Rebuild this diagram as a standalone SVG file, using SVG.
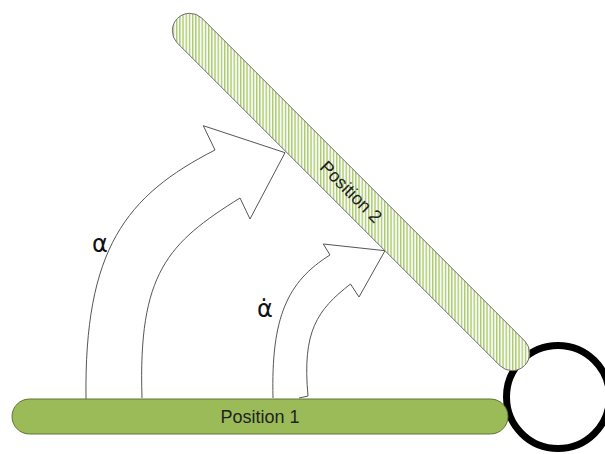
<svg xmlns="http://www.w3.org/2000/svg" width="605" height="454" viewBox="0 0 605 454">
  <style>
    .arrow { fill: none; stroke: #555; stroke-width: 1; stroke-linejoin: miter; }
    .lbl { font-family: "Liberation Sans", "DejaVu Sans", sans-serif; fill: #222; }
    .greek { font-family: "DejaVu Sans", "Liberation Sans", sans-serif; fill: #111; font-size: 24px; }
  </style>
  <defs>
    <pattern id="hatch" patternUnits="userSpaceOnUse" x="0" y="0" width="3.2" height="10">
      <rect x="0" y="0" width="3.2" height="10" fill="#f7faef"/>
      <rect x="0" y="0" width="1.3" height="10" fill="#aac86f"/>
    </pattern>
  </defs>
  <rect width="605" height="454" fill="#ffffff"/>

  <g id="connectors">
    <path id="arrow-alpha" class="arrow" d="M86,399 C84,249 126,195.5 215,150 L203.3,125.7 L285,152.7 L250,219 L240,198 C167.75,243 138,273 142,398"/>
    <path id="arrow-alphadot" class="arrow" d="M273,398 C271,317 287.5,281.5 330,255 L323.3,244 L385,250.7 L359,297 L350.5,284 C317.2,310 302,331 308,396 L299,398"/>
  </g>

  <g id="pivot">
    <circle cx="558" cy="397" r="51.5" fill="#ffffff" stroke="#000000" stroke-width="7"/>
  </g>

  <g id="position2">
    <path d="M201.87,18.13 L524.87,341.13 A17.5,17.5 0 0 1 500.13,365.87 L177.13,42.87 A17.5,17.5 0 0 1 201.87,18.13 Z" fill="url(#hatch)" stroke="#6f6f6f" stroke-width="1"/>
    <text class="lbl" x="0" y="6" font-size="18" text-anchor="middle" transform="translate(351,192) rotate(45)">Position 2</text>
  </g>

  <g id="position1">
    <rect x="12" y="399" width="496" height="35" rx="17.5" fill="#9bbb59" stroke="#5f7434" stroke-width="1"/>
    <text class="lbl" x="260" y="423" font-size="18" text-anchor="middle">Position 1</text>
  </g>

  <g id="label-alpha">
    <text class="greek" x="100" y="252" text-anchor="middle">α</text>
  </g>
  <g id="label-alphadot">
    <text class="greek" x="265" y="317" text-anchor="middle">α̇</text>
  </g>
</svg>
